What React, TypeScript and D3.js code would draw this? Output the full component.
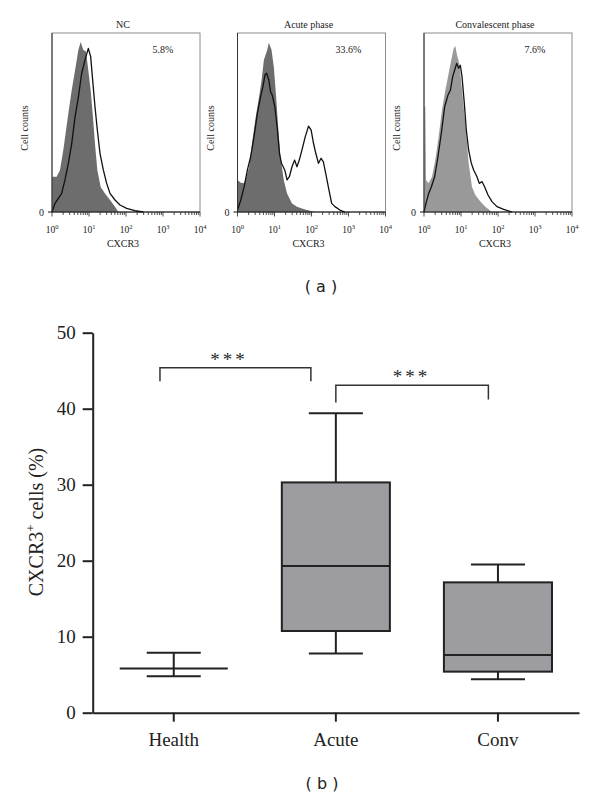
import { useEffect, useRef } from 'react';
import * as d3 from 'd3';

// [log10 CXCR3 intensity, relative cell count (% of frame height)]
type Pt = [number, number];

const panelTitles = ['NC', 'Acute phase', 'Convalescent phase'];
const positiveRates = ['5.8%', '33.6%', '7.6%'];
const decades = [0, 1, 2, 3, 4];

const ncIsotype: Pt[] = [
  [0, 19.7], [0.126, 19.7], [0.216, 23.5], [0.306, 34.6], [0.441, 55], [0.532, 68], [0.622, 79],
  [0.712, 90.5], [0.775, 95], [0.847, 90.5], [0.919, 89.6], [0.982, 79], [1.045, 68], [1.099, 55],
  [1.162, 38], [1.225, 23.5], [1.315, 14], [1.432, 10.4], [1.568, 6.7], [1.703, 3], [1.793, 0],
];
const ncSample: Pt[] = [
  [0, 0], [0.081, 4.8], [0.171, 7.6], [0.261, 10.4], [0.351, 17.9], [0.441, 27], [0.532, 38],
  [0.622, 53], [0.712, 64], [0.802, 77.5], [0.892, 85], [0.982, 91.4], [1.045, 86.8], [1.099, 73.7],
  [1.162, 58.8], [1.225, 45.8], [1.297, 32.8], [1.387, 23.5], [1.477, 16], [1.568, 10.4],
  [1.703, 6.7], [1.838, 3.9], [2.018, 2], [2.243, 0.7], [2.468, 0],
];
const acuteIsotype: Pt[] = [
  [0, 17.9], [0.089, 16.4], [0.179, 16], [0.241, 19.7], [0.313, 25], [0.402, 40], [0.491, 53],
  [0.58, 64], [0.652, 73.7], [0.714, 85], [0.804, 90.5], [0.848, 94.6], [0.92, 90.5], [0.982, 81],
  [1.045, 64], [1.098, 47.7], [1.161, 31], [1.25, 17.9], [1.339, 10.4], [1.473, 4.8], [1.607, 3],
  [1.741, 2], [1.875, 1.1], [2.098, 0],
];
const acuteSample: Pt[] = [
  [0, 1.1], [0.089, 6.7], [0.179, 14], [0.268, 23.5], [0.357, 31], [0.446, 42], [0.536, 55],
  [0.625, 64.4], [0.688, 70], [0.741, 76.5], [0.786, 77.5], [0.848, 73.7], [0.893, 67.2],
  [0.938, 65.4], [1.009, 58.8], [1.071, 47.7], [1.134, 32.8], [1.188, 27.2], [1.277, 23.5],
  [1.339, 17.9], [1.402, 19.7], [1.473, 25.3], [1.545, 29], [1.607, 25.3], [1.67, 29],
  [1.741, 34.6], [1.83, 42], [1.92, 48], [1.991, 45.8], [2.054, 38.4], [2.116, 32.8],
  [2.188, 27.2], [2.259, 30], [2.321, 28], [2.384, 21.6], [2.455, 14], [2.545, 4.8], [2.634, 3],
  [2.768, 1.1], [2.902, 0],
];
const convIsotype: Pt[] = [
  [0, 58.8], [0.036, 58.8], [0.054, 17.9], [0.126, 16], [0.216, 19.7], [0.306, 29], [0.396, 42],
  [0.486, 57], [0.577, 68], [0.667, 77.5], [0.739, 85], [0.802, 91.4], [0.847, 92.7], [0.892, 87.7],
  [0.955, 83], [1.009, 71.9], [1.072, 58.8], [1.135, 45.8], [1.207, 27.2], [1.297, 14],
  [1.387, 9.5], [1.523, 5.8], [1.658, 3], [1.838, 0],
];
const convSample: Pt[] = [
  [0, 0], [0.054, 4.8], [0.126, 10.4], [0.198, 14], [0.288, 19.7], [0.378, 31], [0.468, 44],
  [0.559, 58.8], [0.649, 65.4], [0.712, 68], [0.775, 75.6], [0.829, 79.3], [0.883, 83],
  [0.937, 80.3], [0.982, 82], [1.027, 75.6], [1.09, 60.7], [1.144, 45.8], [1.207, 34.6],
  [1.279, 27.2], [1.342, 23.5], [1.432, 19.7], [1.495, 16], [1.568, 17], [1.64, 14], [1.73, 9.5],
  [1.838, 5.8], [1.973, 3], [2.153, 1.5], [2.378, 0],
];

// box plot (b)
const groups = ['Health', 'Acute', 'Conv'];
const whiskerLow = [4.8, 7.8, 4.4];
const q1 = [5.8, 10.75, 5.4];
const median = [5.8, 19.3, 7.6];
const q3 = [5.8, 30.3, 17.15];
const whiskerHigh = [7.9, 39.4, 19.5];
const yTicks = [0, 10, 20, 30, 40, 50];
const comparisons = [
  { from: 'Health', to: 'Acute', level: 45.4, label: '***' },
  { from: 'Acute', to: 'Conv', level: 43.1, label: '***' },
];

const SERIF = '"Liberation Serif", "DejaVu Serif", serif';

export default function App() {
  const ref = useRef<SVGSVGElement>(null);

  useEffect(() => {
    const svg = d3.select(ref.current);
    svg.selectAll('*').remove();

    // ---------- (a) flow cytometry histograms ----------
    const panels = [
      { iso: ncIsotype, sample: ncSample, fill: '#6d6d6d', left: 52 },
      { iso: acuteIsotype, sample: acuteSample, fill: '#6d6d6d', left: 237.5 },
      { iso: convIsotype, sample: convSample, fill: '#999999', left: 424 },
    ];
    const pw = 148;
    const top = 33;
    const base = 212;

    panels.forEach((p, i) => {
      const x = d3.scaleLog().domain([1, 1e4]).range([p.left, p.left + pw]);
      const y = d3.scaleLinear().domain([0, 100]).range([base, top]);
      const g = svg.append('g').attr('font-family', SERIF).attr('fill', '#222');
      const cx = p.left + pw / 2;

      g.append('rect')
        .attr('x', p.left)
        .attr('y', top)
        .attr('width', pw)
        .attr('height', base - top)
        .attr('fill', 'none')
        .attr('stroke', '#8c8c8c')
        .attr('stroke-width', 1);

      const area = d3
        .area<Pt>()
        .x(d => x(10 ** d[0]))
        .y0(y(0))
        .y1(d => y(d[1]));
      g.append('path').datum(p.iso).attr('d', area).attr('fill', p.fill);

      const line = d3
        .line<Pt>()
        .x(d => x(10 ** d[0]))
        .y(d => y(d[1]));
      g.append('path')
        .datum(p.sample)
        .attr('d', line)
        .attr('fill', 'none')
        .attr('stroke', '#111')
        .attr('stroke-width', 1.3)
        .attr('stroke-linejoin', 'round');

      // left + bottom axis lines
      g.append('line')
        .attr('x1', p.left).attr('x2', p.left)
        .attr('y1', top).attr('y2', base)
        .attr('stroke', '#333').attr('stroke-width', 1);
      g.append('line')
        .attr('x1', p.left).attr('x2', p.left + pw)
        .attr('y1', base).attr('y2', base)
        .attr('stroke', '#111').attr('stroke-width', 1.2);
      g.append('line')
        .attr('x1', p.left - 4).attr('x2', p.left)
        .attr('y1', base).attr('y2', base)
        .attr('stroke', '#111').attr('stroke-width', 1);
      g.append('text')
        .attr('x', p.left - 8)
        .attr('y', base + 3.5)
        .attr('text-anchor', 'end')
        .attr('font-size', 10)
        .text('0');

      // log ticks
      const ticks = x.ticks();
      g.selectAll('line.tk')
        .data(ticks)
        .join('line')
        .attr('class', 'tk')
        .attr('x1', d => x(d)).attr('x2', d => x(d))
        .attr('y1', base)
        .attr('y2', d => (Number.isInteger(Math.log10(d)) ? base + 4.5 : base + 3))
        .attr('stroke', '#222')
        .attr('stroke-width', 0.8);

      const lbl = g
        .selectAll('text.dec')
        .data(decades)
        .join('text')
        .attr('class', 'dec')
        .attr('x', d => x(10 ** d))
        .attr('y', 233)
        .attr('text-anchor', 'middle')
        .attr('font-size', 9.5);
      lbl.append('tspan').text('10');
      lbl.append('tspan').attr('dy', -4.5).attr('font-size', 6.5).text(d => String(d));

      g.append('text')
        .attr('x', cx - 3)
        .attr('y', 247)
        .attr('text-anchor', 'middle')
        .attr('font-size', 10)
        .text('CXCR3');
      g.append('text')
        .attr('x', cx - 3)
        .attr('y', 28)
        .attr('text-anchor', 'middle')
        .attr('font-size', 10)
        .text(panelTitles[i]);
      g.append('text')
        .attr('x', p.left + pw * 0.75)
        .attr('y', 53)
        .attr('text-anchor', 'middle')
        .attr('font-size', 10)
        .text(positiveRates[i]);
      g.append('text')
        .attr('transform', `translate(${p.left - 24},128) rotate(-90)`)
        .attr('text-anchor', 'middle')
        .attr('font-size', 10)
        .text('Cell counts');
    });

    svg.append('text')
      .attr('x', 321)
      .attr('y', 292)
      .attr('text-anchor', 'middle')
      .attr('font-family', '"DejaVu Sans", sans-serif')
      .attr('font-size', 16)
      .attr('fill', '#222')
      .text('( a )');

    // ---------- (b) box plot ----------
    const y = d3.scaleLinear().domain([0, 50]).range([712.7, 332.7]);
    const x = d3.scaleBand().domain(groups).range([92.7, 579]);
    const bw = x.bandwidth() * (2 / 3);
    const cw = x.bandwidth() / 3;
    const mid = (g: string) => (x(g) ?? 0) + x.bandwidth() / 2;

    const yAxis = svg
      .append('g')
      .attr('transform', 'translate(92.7,0)')
      .call(d3.axisLeft(y).tickValues(yTicks).tickSize(10).tickSizeOuter(0).tickPadding(7));
    const xAxis = svg
      .append('g')
      .attr('transform', 'translate(0,712.7)')
      .call(d3.axisBottom(x).tickSize(9).tickSizeOuter(0).tickPadding(11));
    [yAxis, xAxis].forEach(a => {
      a.selectAll('path, line').attr('stroke', '#222').attr('stroke-width', 2);
      a.selectAll('text').attr('font-family', SERIF).attr('font-size', 19).attr('fill', '#222');
    });

    const box = svg.append('g').attr('stroke', '#222').attr('stroke-width', 2);
    groups.forEach((gname, i) => {
      const c = mid(gname);
      box.append('line')
        .attr('x1', c).attr('x2', c)
        .attr('y1', y(whiskerLow[i])).attr('y2', y(q1[i]));
      box.append('line')
        .attr('x1', c).attr('x2', c)
        .attr('y1', y(q3[i])).attr('y2', y(whiskerHigh[i]));
      [whiskerLow[i], whiskerHigh[i]].forEach(v =>
        box.append('line')
          .attr('x1', c - cw / 2).attr('x2', c + cw / 2)
          .attr('y1', y(v)).attr('y2', y(v))
      );
      if (q3[i] > q1[i]) {
        box.append('rect')
          .attr('x', c - bw / 2)
          .attr('y', y(q3[i]))
          .attr('width', bw)
          .attr('height', y(q1[i]) - y(q3[i]))
          .attr('fill', '#9d9ca1');
      }
      box.append('line')
        .attr('x1', c - bw / 2).attr('x2', c + bw / 2)
        .attr('y1', y(median[i])).attr('y2', y(median[i]));
    });

    // significance brackets
    const nudges = [
      { l: -0.085, r: -0.154, dl: 13.5, dr: 13.5, sx: -8 },
      { l: 0, r: -0.059, dl: 17.3, dr: 14.3, sx: -2 },
    ];
    comparisons.forEach((cmp, i) => {
      const n = nudges[i];
      const xl = mid(cmp.from) + n.l * x.bandwidth();
      const xr = mid(cmp.to) + n.r * x.bandwidth();
      const yy = y(cmp.level);
      svg.append('path')
        .attr('d', `M${xl},${yy + n.dl}V${yy}H${xr}V${yy + n.dr}`)
        .attr('fill', 'none')
        .attr('stroke', '#333')
        .attr('stroke-width', 1.5);
      svg.append('text')
        .attr('x', (xl + xr) / 2 + n.sx + 1.5)
        .attr('y', yy - 2)
        .attr('text-anchor', 'middle')
        .attr('font-family', SERIF)
        .attr('font-size', 19)
        .attr('letter-spacing', 3)
        .attr('fill', '#2a2a2a')
        .text(cmp.label);
    });

    const yl = svg.append('text')
      .attr('transform', 'translate(43,522) rotate(-90)')
      .attr('text-anchor', 'middle')
      .attr('font-family', SERIF)
      .attr('font-size', 20)
      .attr('fill', '#222');
    yl.append('tspan').text('CXCR3');
    yl.append('tspan').attr('dy', -8).attr('font-size', 13).text('+');
    yl.append('tspan').attr('dy', 8).text(' cells (%)');

    svg.append('text')
      .attr('x', 322)
      .attr('y', 789)
      .attr('text-anchor', 'middle')
      .attr('font-family', '"DejaVu Sans", sans-serif')
      .attr('font-size', 16)
      .attr('fill', '#222')
      .text('( b )');
  }, []);

  return (
    <svg
      ref={ref}
      width={600}
      height={802}
      style={{ position: 'absolute', left: 0, top: 0, display: 'block', background: '#fff' }}
    />
  );
}
